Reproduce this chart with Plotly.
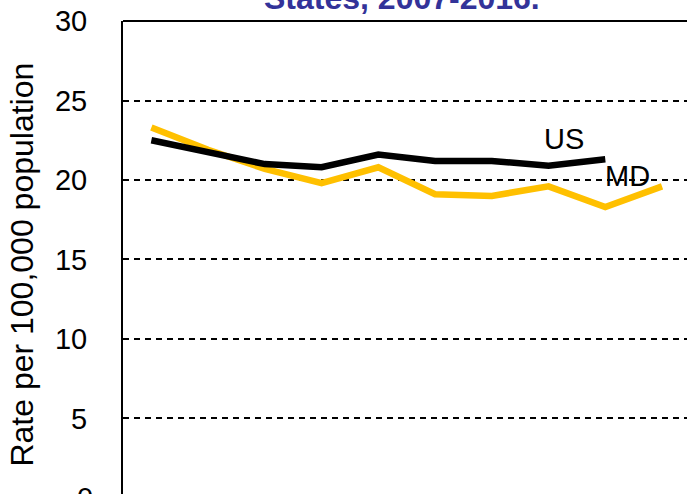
import plotly.graph_objects as go

# Rates per 100,000 population by year
years = [2007, 2008, 2009, 2010, 2011, 2012, 2013, 2014, 2015, 2016]
us_rate = [22.5, 21.8, 21.0, 20.8, 21.6, 21.2, 21.2, 20.9, 21.3]
md_rate = [23.3, 21.9, 20.7, 19.8, 20.8, 19.1, 19.0, 19.6, 18.3, 19.6]
y_ticks = [0, 5, 10, 15, 20, 25, 30]

FONT = "Arial, Liberation Sans, sans-serif"
GOLD = "#FFC000"

fig = go.Figure()
fig.add_trace(go.Scatter(x=years, y=md_rate, mode="lines", name="MD",
                         line=dict(color=GOLD, width=6.5)))
fig.add_trace(go.Scatter(x=years[:len(us_rate)], y=us_rate, mode="lines", name="US",
                         line=dict(color="black", width=6.5)))

fig.update_layout(
    width=687, height=494,
    margin=dict(l=123, r=0, t=21, b=0),
    paper_bgcolor="white", plot_bgcolor="white",
    showlegend=False,
    font=dict(family=FONT, color="black", size=29),
)
fig.update_xaxes(range=[2006.5, 2016.44], showline=False, showgrid=False,
                 zeroline=False, showticklabels=False, ticks="")
fig.update_yaxes(range=[0.25, 30], tickvals=y_ticks, showline=True, linecolor="black",
                 linewidth=2, showgrid=True, gridcolor="black", gridwidth=1.6,
                 griddash="6px,5px", zeroline=False, ticks="", ticklabelstandoff=28,
                 tickfont=dict(size=29))

# plot-area top border
fig.add_shape(type="line", xref="paper", yref="paper", x0=0, x1=1, y0=1, y1=1,
              line=dict(color="black", width=2))

# bottom tick label, partly below the frame
fig.add_annotation(text="0", xref="paper", yref="paper", x=-28 / 564, y=-4 / 473,
                   xanchor="right", yanchor="middle", showarrow=False,
                   font=dict(size=29))

# series labels
fig.add_annotation(text="US", x=2014.28, y=22.55, showarrow=False, font=dict(size=29))
fig.add_annotation(text="MD", x=2015.39, y=20.25, showarrow=False, font=dict(size=29))

# axis title
fig.add_annotation(text="Rate per 100,000 population", textangle=-90,
                   xref="paper", yref="paper", x=-101 / 564, y=0.485,
                   xanchor="center", yanchor="middle", showarrow=False,
                   font=dict(size=32))

# chart title (second line)
fig.add_annotation(text="<b>States, 2007-2016.</b>", xref="paper", yref="paper",
                   x=(402 - 123) / 564, y=1 + 23 / 473, xanchor="center",
                   yanchor="middle", showarrow=False,
                   font=dict(size=32, color="#333399"))

fig.write_html("out.html")
